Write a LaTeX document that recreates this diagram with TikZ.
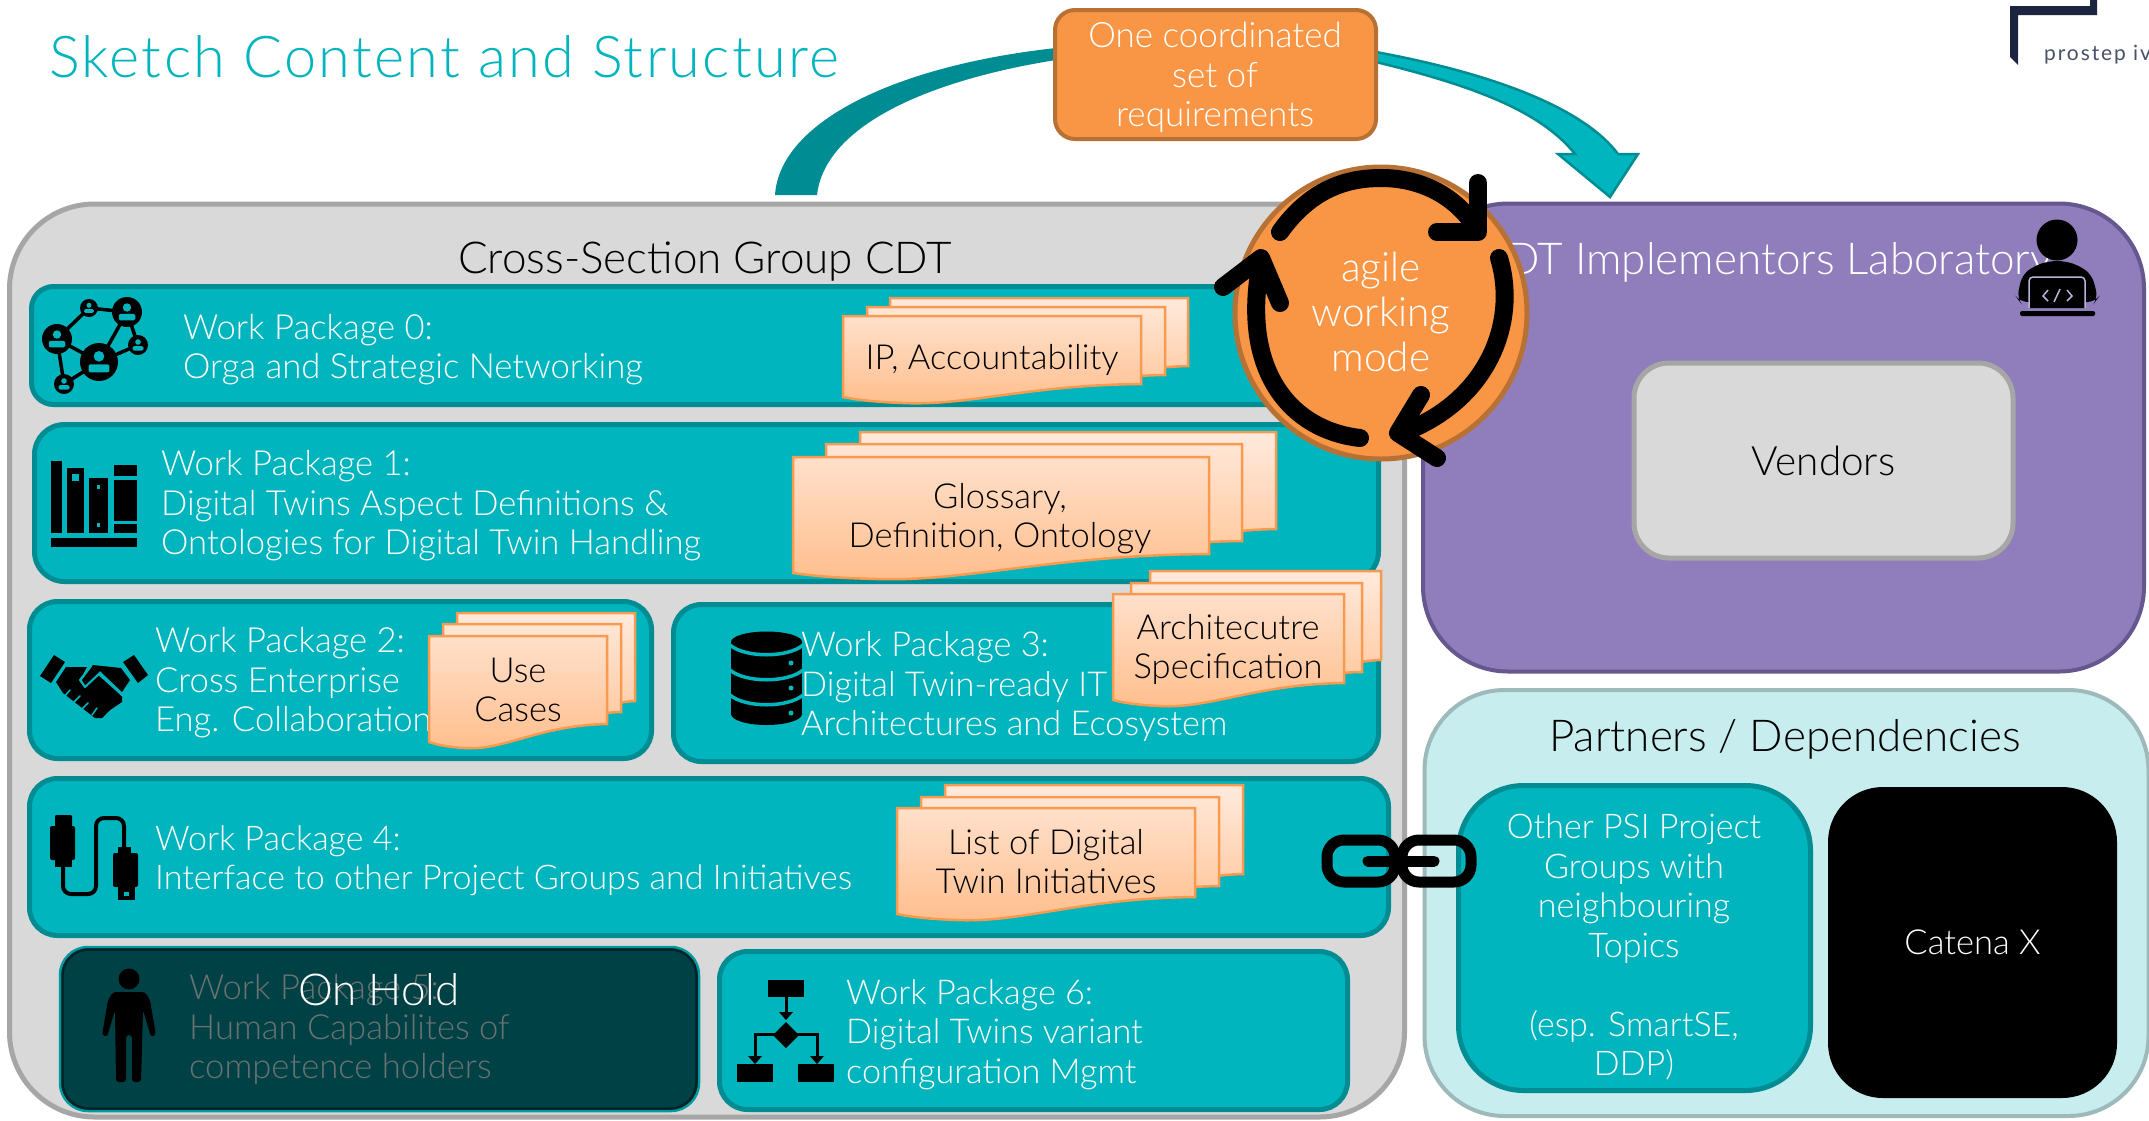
\documentclass[tikz,border=0pt]{standalone}
\usepackage{fontspec}
\setmainfont{Lato Light}
\newfontfamily\logofont{Lato}[LetterSpace=9]
\newfontfamily\titlefont{Lato Light}[LetterSpace=4]
\definecolor{teal0}{HTML}{00B5BD}
\definecolor{teal1}{HTML}{008C93}
\definecolor{grayF}{HTML}{D9D9D9}
\definecolor{grayS}{HTML}{A6A6A6}
\definecolor{org}{HTML}{F89645}
\definecolor{orgS}{HTML}{B87135}
\definecolor{purp}{HTML}{8F7EBB}
\definecolor{purpS}{HTML}{66578F}
\definecolor{aqua}{HTML}{C7EDEE}
\definecolor{aquaS}{HTML}{9DB9BA}
\definecolor{navy}{HTML}{1B2540}
\definecolor{darkT}{HTML}{004146}
\definecolor{dimT}{HTML}{6A7272}
\definecolor{sheetS}{HTML}{F89B50}
\tikzset{
 box/.style={draw,rounded corners=#1,inner sep=0pt,outer sep=0pt,anchor=north west},
 wpbox/.style={box=#1,fill=teal0,draw=teal1,line width=5pt},
 wptext/.style={anchor=base west,align=left,text=white,inner sep=0pt,font=\fontsize{34.6}{39.5}\selectfont},
 doclabel/.style={anchor=base,align=center,text=black,inner sep=0pt,font=\fontsize{34.5}{39.5}\selectfont},
 icon/.style={fill=black,draw=none},
 blackarc/.style={draw=black,line width=18pt,line cap=round,line join=round},
}
\newcommand\docsheet[7]{% L T R Br Bl topcolor botcolor
 \shadedraw[top color=#6,bottom color=#7,draw=sheetS,line width=2.5pt]
  (#1,#2) -- (#3,#2) -- (#3,#4)
  .. controls ({#1+0.62*(#3-#1)},{#4+1}) and ({#1+0.42*(#3-#1)},{#5+9}) .. ({#1+0.2*(#3-#1)},{#5+6})
  .. controls ({#1+0.11*(#3-#1)},{#5+5}) and ({#1+0.05*(#3-#1)},{#5+3}) .. (#1,#5) -- cycle;}
\newcommand\docstack[9]{% Lf Tf Rf Brf Blf dx1 dy1 dx2 dy2
 \docsheet{#1+#8}{#2-#9}{#3+#8}{#4-#9}{#5-#9}{sheetTopB}{sheetBotB}
 \docsheet{#1+#6}{#2-#7}{#3+#6}{#4-#7}{#5-#7}{sheetTopM}{sheetBotM}
 \docsheet{#1}{#2}{#3}{#4}{#5}{sheetTopF}{sheetBotF}}
\definecolor{sheetTopB}{HTML}{FFEADD}\definecolor{sheetBotB}{HTML}{FFC89F}
\definecolor{sheetTopM}{HTML}{FFE6D5}\definecolor{sheetBotM}{HTML}{FFC597}
\definecolor{sheetTopF}{HTML}{FFE0CB}\definecolor{sheetBotF}{HTML}{FFBE8C}
\newcommand\netp[3]{% x y r : teal person in a black disc
 \fill[black] (#1,#2) circle[radius=#3 pt];
 \fill[teal0] (#1,{#2-0.3*#3}) circle[radius=0.28*#3 pt];
 \fill[teal0,rounded corners=1.5pt] ({#1-0.55*#3},{#2+0.55*#3}) rectangle ({#1+0.55*#3},{#2+0.12*#3});}
\begin{document}
\begin{tikzpicture}[x=1pt,y=-1pt]
\useasboundingbox (0,0) rectangle (2149,1120);
\fill[white] (0,0) rectangle (2149,1120);
\begin{scope}
\clip (0,0) rectangle (2149,1120);
% title
\node[anchor=base west,inner sep=0pt,text=teal0,font=\fontsize{57.7}{68}\selectfont\titlefont] (title) at (49,77) {Sketch Content and Structure};
% logo
\fill[navy] (2090,0) -- (2097,0) -- (2097,15) -- (2018,15) -- (2018,65) -- (2010,57) -- (2010,6) -- (2090,6) -- cycle;
\node[anchor=base west,inner sep=0pt,text=navy!80,font=\fontsize{21}{24}\selectfont\logofont] (logo) at (2044,60) {prostep iv};
% swooshes
\fill[teal1] (775,195) .. controls (780,120) and (900,65) .. (1056,48) -- (1056,60) .. controls (930,80) and (825,125) .. (817,195) -- cycle;
\draw[fill=teal0,draw=teal1,line width=2.5pt,line join=miter] (1376,52) .. controls (1500,75) and (1585,110) .. (1618,154) -- (1638,154) -- (1610,197) -- (1558,154) -- (1575,154) .. controls (1540,110) and (1470,85) .. (1376,62) -- cycle;
% main panels
\node[box=85pt,fill=grayF,draw=grayS,line width=5pt,minimum width=1395pt,minimum height=913pt] (cdt) at (9.5,204) {};
\node[box=85pt,fill=purp,draw=purpS,line width=4pt,minimum width=721pt,minimum height=468pt] (lab) at (1423,203.5) {};
\node[box=80pt,fill=aqua,draw=aquaS,line width=4pt,minimum width=724pt,minimum height=426pt] (partners) at (1424.5,690) {};
\node[anchor=base,inner sep=0pt,font=\fontsize{44}{50}\selectfont] (cdtT) at (705,273) {Cross-Section Group CDT};
\node[anchor=base west,inner sep=0pt,text=white,font=\fontsize{44}{50}\selectfont] (labT) at (1506,274) {DT Implementors Laboratory};
\node[anchor=base,inner sep=0pt,font=\fontsize{44}{50}\selectfont] (partT) at (1785,751) {Partners / Dependencies};
\node[box=35pt,fill=grayF,draw=grayS,line width=5pt,minimum width=379pt,minimum height=195pt,font=\fontsize{40.5}{46}\selectfont] (vendors) at (1634,363) {Vendors};
\node[wpbox=65pt,minimum width=352pt,minimum height=305pt] (psi) at (1458.5,785.5) {};
\node[anchor=base,align=center,inner sep=0pt,text=white,font=\fontsize{34}{39.5}\selectfont] (psiT) at (1634,1075.5) {Other PSI Project\\Groups with\\neighbouring\\Topics\\[39.5pt](esp. SmartSE,\\DDP)};
\node[box=55pt,fill=black,draw=none,minimum width=289pt,minimum height=311pt,text=white,font=\fontsize{34.5}{39.5}\selectfont] (catena) at (1828,787) {Catena X};
% work package boxes
\node[wpbox=22pt,minimum width=1265pt,minimum height=118pt] (wp0) at (31.5,286.5) {};
\node[wpbox=30pt,minimum width=1344pt,minimum height=157pt] (wp1) at (34.5,424.5) {};
\node[wpbox=28pt,minimum width=622pt,minimum height=157pt] (wp2) at (29.5,601.5) {};
\node[wpbox=28pt,minimum width=705pt,minimum height=157pt] (wp3) at (673.5,604.5) {};
\node[wpbox=28pt,minimum width=1359pt,minimum height=157pt] (wp4) at (29.5,778.5) {};
\node[box=28pt,fill=darkT,draw=teal0!85!black,line width=2.5pt,minimum width=639pt,minimum height=164pt] (wp5) at (60,947) {};
\draw[draw=black!45!darkT,line width=2.5pt,rounded corners=26pt] (62.5,949.5) rectangle (696.5,1108.5);
\node[wpbox=28pt,minimum width=628pt,minimum height=158pt] (wp6) at (719.5,951.5) {};
% wp texts (anchored on the last baseline)
\node[wptext] (t0) at (183,378.5) {Work Package 0:\\Orga and Strategic Networking};
\node[wptext] (t1) at (161,554.5) {Work Package 1:\\Digital Twins Aspect Definitions \&\\Ontologies for Digital Twin Handling};
\node[wptext] (t2) at (155,731.5) {Work Package 2:\\Cross Enterprise\\Eng. Collaboration};
\node[wptext,font=\fontsize{34.3}{39.5}\selectfont] (t3) at (801,735.5) {Work Package 3:\\Digital Twin-ready IT\\Architectures and Ecosystem};
\node[wptext,font=\fontsize{34}{39.5}\selectfont] (t4) at (155,889.5) {Work Package 4:\\Interface to other Project Groups and Initiatives};
\node[wptext,text=dimT] (t5) at (189,1078.5) {Work Package 5:\\Human Capabilites of\\competence holders};
\node[anchor=base,inner sep=0pt,text=white,font=\fontsize{44}{50}\selectfont] (hold) at (379,1005) {On Hold};
\node[wptext,font=\fontsize{34.2}{39.5}\selectfont] (t6) at (846,1083) {Work Package 6:\\Digital Twins variant\\configuration Mgmt};
% document stacks
\docstack{843}{316}{1141}{384}{397}{24}{9}{47}{18}
\node[doclabel] (d0) at (992,369.5) {IP, Accountability};
\docstack{793}{457}{1209}{554}{573}{33}{13}{67}{25}
\node[doclabel] (d1) at (1000,547.5) {Glossary,\\Definition, Ontology};
\docstack{429}{636}{607}{724}{742}{14}{12}{28}{23}
\node[doclabel] (d2) at (518,721.5) {Use\\Cases};
\docstack{1113}{594}{1344}{683}{700}{18}{11}{37}{23}
\node[doclabel] (d3) at (1228,678.5) {Architecutre\\Specification};
\docstack{897}{808}{1195}{897}{914}{24}{11}{48}{23}
\node[doclabel] (d4) at (1046,893.5) {List of Digital\\Twin Initiatives};
% orange box
\node[box=20pt,fill=org,draw=orgS,line width=4pt,minimum width=321pt,minimum height=129pt] (req) at (1055,10) {};
\node[anchor=base,align=center,inner sep=0pt,text=white,font=\fontsize{35}{39.5}\selectfont] (reqT) at (1215,126.5) {One coordinated\\set of\\requirements};
% agile circle
\node[circle,fill=org,draw=orgS,line width=5pt,minimum size=292pt,inner sep=0pt] (agile) at (1381,313) {};
\node[anchor=base,align=center,inner sep=0pt,text=white,font=\fontsize{40.5}{45}\selectfont] (agileT) at (1381,371.5) {agile\\working\\mode};
\draw[blackarc] (1280,232) .. controls (1310,190) and (1345,178) .. (1381,178) .. controls (1420,178) and (1455,195) .. (1476,228);
\draw[blackarc] (1478,183) -- (1478,232) -- (1437,232);
\draw[blackarc] (1499,258) .. controls (1518,320) and (1490,400) .. (1402,433);
\draw[blackarc] (1421,395) -- (1398,433) -- (1437,458);
\draw[blackarc] (1360,438) .. controls (1290,430) and (1240,370) .. (1261,262);
\draw[blackarc] (1223,287) -- (1261,258) -- (1280,303);
% chain
\begin{scope}[draw=black,line width=11pt]
\draw[rounded corners=17pt] (1327,840) rectangle (1395,882);
\draw[rounded corners=17pt] (1402,840) rectangle (1471,882);
\draw[line cap=round] (1368,861) -- (1434,861);
\end{scope}
% network icon
\draw[black,line width=3.5pt] (99,362) -- (57,339) -- (89,308) -- (127,312) -- (99,362) -- (138,345) -- (127,312);
\draw[black,line width=3.5pt] (57,339) -- (64,384) -- (99,362);
\netp{99}{362}{19}\netp{57}{339}{15}\netp{127}{312}{15}\netp{89}{308}{9}\netp{138}{345}{10}\netp{64}{384}{10}
% books icon
\fill[black] (51,461) rectangle (62,533);
\fill[black] (67,468) rectangle (84,533);
\fill[black] (89,478) rectangle (108,533);
\fill[black] (114,465) rectangle (137,533);
\fill[teal0] (114,476) rectangle (137,480);
\fill[teal0] (114,521) rectangle (137,524);
\fill[teal0] (72,474) rectangle (79,481);
\fill[teal0] (97,485) rectangle (100,489);
\fill[teal0] (97,523) rectangle (100,527);
\fill[black] (51,538) rectangle (137,547);
% handshake icon
\fill[icon] (54,655) -- (65,662) -- (51,683) -- (40,676) -- cycle;
\fill[icon] (134,655) -- (123,662) -- (138,683) -- (148,675) -- cycle;
\fill[icon] (66,667) -- (87,667) -- (80,680) -- (85,687) -- (98,675) -- (122,695) -- (122,702) -- (110,710) -- (102,718) -- (95,718) -- (63,693) -- (56,682) -- cycle;
\fill[icon] (93,665) -- (121,668) -- (130,680) -- (122,692) -- (100,671) -- (85,686) -- (82,680) -- cycle;
\draw[teal0,line width=2pt,line join=round] (91,666) -- (80,680) -- (85,687) -- (99,674) -- (123,696);
\draw[teal0,line width=1.5pt,line cap=round] (70,690) -- (64,697) (80,696) -- (73,703) (88,703) -- (81,710) (97,708) -- (92,715);
% database icon
\fill[icon] (731,642) rectangle (802,714);
\fill[icon] (766.5,642) circle[x radius=35.5pt,y radius=10.5pt];
\fill[icon] (766.5,714) circle[x radius=35.5pt,y radius=11pt];
\draw[teal0,line width=3.5pt] (730,645) .. controls (745,658) and (788,658) .. (803,645);
\draw[teal0,line width=3.5pt] (730,670) .. controls (745,683) and (788,683) .. (803,670);
\draw[teal0,line width=3.5pt] (730,695) .. controls (745,708) and (788,708) .. (803,695);
\foreach \dy in {663,688,713}{\fill[teal0] (791,\dy) circle[radius=2.5pt];}
% usb icon
\fill[icon,rounded corners=1pt] (55,815) rectangle (72,827);
\fill[icon,rounded corners=2pt] (50,826) rectangle (75,860);
\fill[icon] (55,860) rectangle (72,867);
\draw[black,line width=4pt,rounded corners=8pt] (63,866) -- (63,894) -- (96,894) -- (96,818) -- (124,818) -- (124,848);
\fill[icon] (118,847) rectangle (131,854);
\fill[icon,rounded corners=2pt] (113,853) rectangle (138,887);
\fill[icon] (118,887) rectangle (135,900);
\fill[teal0] (124,892) rectangle (129,896);
% person icon
\fill[icon] (129,979) circle[radius=10.5pt];
\fill[icon,rounded corners=3pt] (113,992) -- (145,992) -- (150,1000) -- (156,1035) -- (151,1037) -- (143,1010) -- (141,1082) -- (132,1082) -- (132,1035) -- (126,1035) -- (126,1082) -- (116,1082) -- (115,1010) -- (107,1037) -- (102,1035) -- (108,1000) -- cycle;
% flowchart icon
\fill[icon] (768,980) rectangle (804,997);
\draw[black,line width=3pt] (786,997) -- (786,1016);
\fill[icon] (779,1012) -- (786,1020) -- (793,1012) -- cycle;
\fill[icon] (786,1022) -- (799,1035) -- (786,1048) -- (773,1035) -- cycle;
\draw[black,line width=3pt] (755,1060) -- (755,1034) -- (817,1034) -- (817,1060);
\fill[icon] (748,1056) -- (755,1064) -- (762,1056) -- cycle;
\fill[icon] (810,1056) -- (817,1064) -- (824,1056) -- cycle;
\fill[icon] (737,1064) rectangle (773,1082);
\fill[icon] (798,1064) rectangle (834,1082);
% developer icon
\fill[icon] (2057,240) circle[radius=20.5pt];
\fill[icon,rounded corners=8pt] (2020,302) -- (2017,298) -- (2022,275) -- (2034,266) -- (2049,261) -- (2065,261) -- (2080,266) -- (2092,275) -- (2098,298) -- (2095,302) -- cycle;
\draw[purp!60!white,fill=black,line width=1.5pt,rounded corners=4pt] (2029,308) -- (2029,277) -- (2085,277) -- (2085,308);
\fill[icon,rounded corners=1.5pt] (2020,311) rectangle (2095,316);
\draw[purp!60!white,line width=1.5pt] (2048,290) -- (2043,296) -- (2048,301) (2067,290) -- (2072,296) -- (2067,301) (2054,302) -- (2060,289);
\end{scope}
\end{tikzpicture}
\end{document}
